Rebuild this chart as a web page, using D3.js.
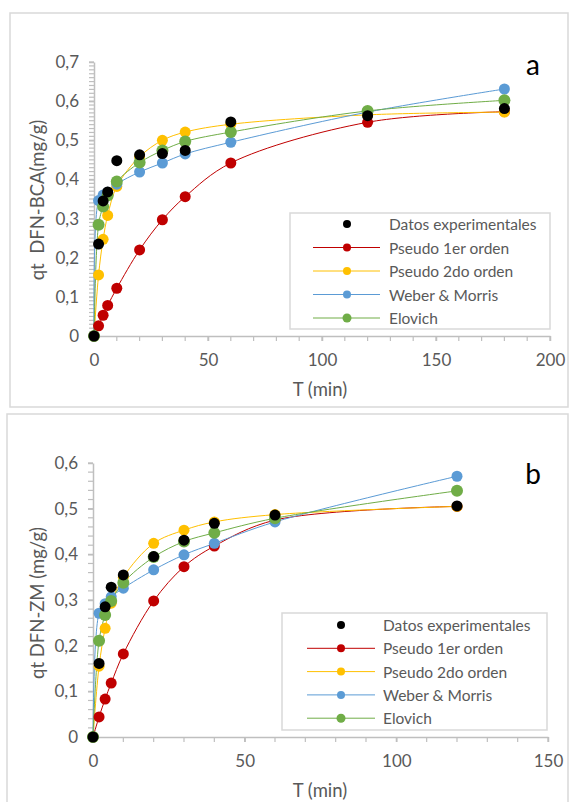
<!DOCTYPE html>
<html>
<head>
<meta charset="utf-8">
<script src="https://cdn.jsdelivr.net/npm/d3@7"></script>
<style>
  html, body { margin: 0; padding: 0; background: #fff; }
  svg { display: block; font-family: "Lato", "Open Sans", sans-serif; }
</style>
</head>
<body>
<svg id="chart" width="571" height="802"></svg>
<script>
// Adsorption kinetics of DFN on two adsorbents: experimental data and model fits
const seriesNames = ["Datos experimentales", "Pseudo 1er orden", "Pseudo 2do orden", "Weber & Morris", "Elovich"];
const seriesColors = ["#000000", "#c00000", "#ffc000", "#5b9bd5", "#70ad47"];

// Panel a: DFN-BCA
const timeA = [0, 2, 4, 6, 10, 20, 30, 40, 60, 120, 180];
const expA  = [0, 0.235, 0.345, 0.368, 0.448, 0.463, 0.466, 0.474, 0.547, 0.563, 0.581];
const pfoA  = [0, 0.026, 0.053, 0.078, 0.122, 0.220, 0.297, 0.356, 0.442, 0.546, 0.573];
const psoA  = [0, 0.156, 0.247, 0.308, 0.382, 0.458, 0.500, 0.521, 0.541, 0.565, 0.572];
const wmA   = [0, 0.346, 0.360, 0.367, 0.388, 0.419, 0.442, 0.465, 0.495, 0.572, 0.631];
const elA   = [0, 0.284, 0.331, 0.359, 0.395, 0.443, 0.474, 0.497, 0.521, 0.575, 0.602];
const xTicksA = [0, 50, 100, 150, 200];
const yTicksA = [0, 0.1, 0.2, 0.3, 0.4, 0.5, 0.6, 0.7];

// Panel b: DFN-ZM
const timeB = [0, 2, 4, 6, 10, 20, 30, 40, 60, 120];
const expB  = [0, 0.161, 0.285, 0.328, 0.355, 0.395, 0.431, 0.468, 0.486, 0.506];
const pfoB  = [0, 0.044, 0.083, 0.118, 0.182, 0.298, 0.373, 0.418, 0.475, 0.505];
const psoB  = [0, 0.155, 0.238, 0.293, 0.350, 0.424, 0.453, 0.471, 0.487, 0.505];
const wmB   = [0, 0.271, 0.292, 0.307, 0.326, 0.366, 0.399, 0.424, 0.471, 0.571];
const elB   = [0, 0.211, 0.267, 0.298, 0.338, 0.394, 0.428, 0.447, 0.479, 0.539];
const xTicksB = [0, 50, 100, 150];
const yTicksB = [0, 0.1, 0.2, 0.3, 0.4, 0.5, 0.6];

const svg = d3.select("#chart");
const fmt = v => v === 0 ? "0" : d3.format(".1f")(v).replace(".", ",");
const axisColor = "#bfbfbf";
const textColor = "#595959";

function drawPanel(cfg) {
  const g = svg.append("g");
  // outer frame
  g.append("rect")
    .attr("x", cfg.frame[0]).attr("y", cfg.frame[1])
    .attr("width", cfg.frame[2]).attr("height", cfg.frame[3])
    .attr("fill", "#fff").attr("stroke", "#d9d9d9").attr("stroke-width", 1.5);

  const x = d3.scaleLinear().domain(cfg.xDomain).range(cfg.xRange);
  const y = d3.scaleLinear().domain(cfg.yDomain).range(cfg.yRange);

  // minor ticks
  const minorX = d3.range(cfg.xDomain[0], cfg.xDomain[1] + 0.001, cfg.xMinor);
  const minorY = d3.range(cfg.yDomain[0], cfg.yDomain[1] + 1e-6, cfg.yMinor);
  g.append("g").selectAll("line").data(minorX).join("line")
    .attr("x1", d => x(d)).attr("x2", d => x(d))
    .attr("y1", y(0)).attr("y2", y(0) + 5)
    .attr("stroke", axisColor).attr("stroke-width", 1.2);
  g.append("g").selectAll("line").data(minorY).join("line")
    .attr("x1", x(0) - 5).attr("x2", x(0))
    .attr("y1", d => y(d)).attr("y2", d => y(d))
    .attr("stroke", axisColor).attr("stroke-width", 1.2);

  const xAxis = g.append("g").attr("transform", `translate(0,${y(0)})`)
    .call(d3.axisBottom(x).tickValues(cfg.xTicks).tickSize(5).tickSizeOuter(0).tickPadding(13));
  const yAxis = g.append("g").attr("transform", `translate(${x(0)},0)`)
    .call(d3.axisLeft(y).tickValues(cfg.yTicks).tickFormat(fmt).tickSize(5).tickSizeOuter(0).tickPadding(10));
  [xAxis, yAxis].forEach(a => {
    a.selectAll("path, line").attr("stroke", axisColor).attr("stroke-width", 1.5);
    a.selectAll("text").attr("fill", textColor).style("font-size", "17px").style("font-family", "Lato, 'Open Sans', sans-serif");
  });

  // axis titles
  g.append("text")
    .attr("transform", `translate(${cfg.yTitlePos[0]},${cfg.yTitlePos[1]}) rotate(-90)`)
    .attr("text-anchor", "middle").attr("dominant-baseline", "central")
    .attr("fill", textColor).style("font-size", "18.5px")
    .style("white-space", "pre").attr("xml:space", "preserve")
    .text(cfg.yTitle);
  g.append("text")
    .attr("x", cfg.xTitlePos[0]).attr("y", cfg.xTitlePos[1])
    .attr("text-anchor", "middle").attr("dominant-baseline", "central")
    .attr("fill", textColor).style("font-size", "18.5px")
    .text("T (min)");

  // panel letter
  g.append("text")
    .attr("x", cfg.letterPos[0]).attr("y", cfg.letterPos[1])
    .attr("text-anchor", "middle").attr("dominant-baseline", "central")
    .attr("fill", "#000").style("font-size", "28px")
    .text(cfg.letter);

  const line = d3.line().x(d => x(d[0])).y(d => y(d[1])).curve(d3.curveCatmullRom.alpha(0.5));
  const models = cfg.series.slice(1);
  const radii = [5.5, 5.5, 5.5, 5.5, 6];

  // smoothed model curves
  models.forEach((vals, i) => {
    const pts = cfg.time.map((t, j) => [t, vals[j]]);
    g.append("path").datum(pts)
      .attr("d", line)
      .attr("fill", "none")
      .attr("stroke", seriesColors[i + 1])
      .attr("stroke-width", 1);
  });
  // model markers
  models.forEach((vals, i) => {
    g.append("g").selectAll("circle").data(cfg.time.map((t, j) => [t, vals[j]])).join("circle")
      .attr("cx", d => x(d[0])).attr("cy", d => y(d[1]))
      .attr("r", radii[i + 1])
      .attr("fill", seriesColors[i + 1]);
  });
  // experimental points on top
  g.append("g").selectAll("circle").data(cfg.time.map((t, j) => [t, cfg.series[0][j]])).join("circle")
    .attr("cx", d => x(d[0])).attr("cy", d => y(d[1]))
    .attr("r", 5.5).attr("fill", seriesColors[0]);

  // legend
  const L = cfg.legend;
  const lg = g.append("g");
  lg.append("rect").attr("x", L.x).attr("y", L.y).attr("width", L.w).attr("height", L.h)
    .attr("fill", "#fff").attr("stroke", "#d9d9d9").attr("stroke-width", 1.5);
  seriesNames.forEach((name, i) => {
    const cy = L.y + L.first + i * L.step;
    if (i > 0) {
      lg.append("line").attr("x1", L.lineX0).attr("x2", L.lineX1).attr("y1", cy).attr("y2", cy)
        .attr("stroke", seriesColors[i]).attr("stroke-width", 1);
    }
    lg.append("circle").attr("cx", L.markX).attr("cy", cy).attr("r", i === 4 ? 4.5 : 4)
      .attr("fill", seriesColors[i]);
    lg.append("text").attr("x", L.textX).attr("y", cy)
      .attr("dominant-baseline", "central").attr("fill", textColor)
      .style("font-size", "15.5px").text(name);
  });
}

drawPanel({
  frame: [10, 13, 558, 394],
  xDomain: [0, 200], xRange: [94, 550],
  yDomain: [0, 0.7], yRange: [336, 62],
  xMinor: 10, yMinor: 0.01,
  xTicks: xTicksA, yTicks: yTicksA,
  yTitle: "qt  DFN-BCA(mg/g)", yTitlePos: [37, 200],
  xTitlePos: [320, 389],
  letter: "a", letterPos: [533, 64],
  time: timeA,
  series: [expA, pfoA, psoA, wmA, elA],
  legend: { x: 290, y: 213, w: 260, h: 116, first: 11, step: 23.5,
            lineX0: 313, lineX1: 380, markX: 347, textX: 389 }
});

drawPanel({
  frame: [7, 414, 561, 392],
  xDomain: [0, 150], xRange: [93, 548],
  yDomain: [0, 0.6], yRange: [737, 463],
  xMinor: 10, yMinor: 0.02,
  xTicks: xTicksB, yTicks: yTicksB,
  yTitle: "qt DFN-ZM (mg/g)", yTitlePos: [37, 603],
  xTitlePos: [320, 790],
  letter: "b", letterPos: [533, 473],
  time: timeB,
  series: [expB, pfoB, psoB, wmB, elB],
  legend: { x: 282, y: 613, w: 265, h: 117, first: 12, step: 23.3,
            lineX0: 307, lineX1: 375, markX: 341, textX: 383 }
});
</script>
</body>
</html>
